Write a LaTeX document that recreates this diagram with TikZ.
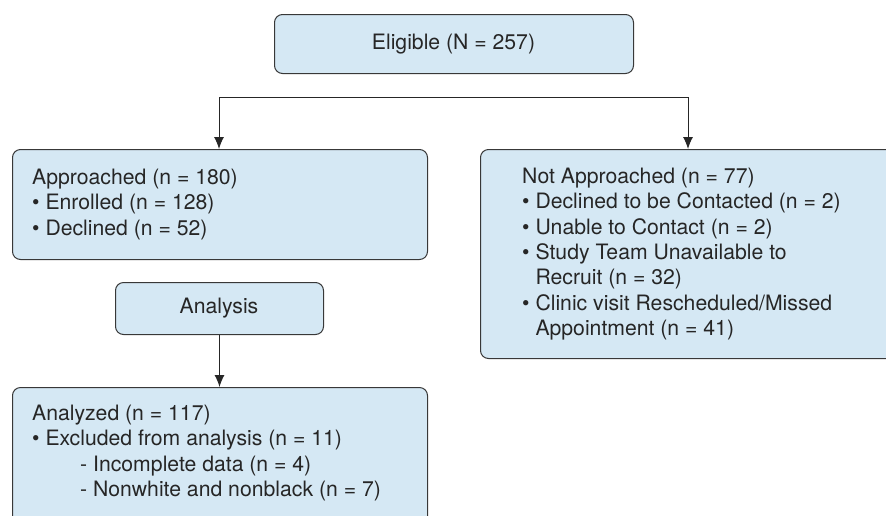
\documentclass[tikz,border=0pt]{standalone}
\usepackage{fontspec}
\setmainfont{TeX Gyre Heros}
\usetikzlibrary{arrows.meta}
\definecolor{boxfill}{HTML}{D5E8F4}
\definecolor{boxline}{HTML}{383838}
\tikzset{
  flowbox/.style={draw=boxline, fill=boxfill, line width=1pt, rounded corners=8pt, inner sep=0pt, anchor=north west},
  boxtext/.style={anchor=north west, inner sep=0pt, align=left, font=\fontsize{21.2}{25.3}\selectfont, text=black!85},
  ctext/.style={inner sep=0pt, font=\fontsize{21.2}{25}\selectfont, text=black!85},
  conn/.style={draw=black!85, line width=1pt, -{Latex[length=12pt,width=10pt]}},
}
\begin{document}
\begin{tikzpicture}[x=1pt,y=-1pt]
\useasboundingbox (0,0) rectangle (886,515);
% boxes
\node[flowbox, minimum width=359pt, minimum height=59pt] (elig) at (274,14) {};
\node[ctext] (eligt) at (453.5,44) {Eligible (N = 257)};
\node[flowbox, minimum width=415pt, minimum height=110pt] (appr) at (12,149) {};
\node[boxtext] (apprt) at (32,169) {Approached (n = 180)\\
\textbullet\ Enrolled (n = 128)\\
\textbullet\ Declined (n = 52)};
\node[flowbox, minimum width=440pt, minimum height=209pt] (notap) at (480,149) {};
\node[boxtext] (notapt) at (522,168) {Not Approached (n = 77)\\
\textbullet\ Declined to be Contacted (n = 2)\\
\textbullet\ Unable to Contact (n = 2)\\
\textbullet\ Study Team Unavailable to\\
\phantom{\textbullet\ }Recruit (n = 32)\\
\textbullet\ Clinic visit Rescheduled/Missed\\
\phantom{\textbullet\ }Appointment (n = 41)};
\node[flowbox, minimum width=208pt, minimum height=52pt] (anal) at (115,282) {};
\node[ctext] (analt) at (219,308) {Analysis};
\node[flowbox, minimum width=415pt, minimum height=160pt] (analyzed) at (12,387) {};
\node[boxtext] (analyzedt) at (32,405) {Analyzed (n = 117)\\
\textbullet\ Excluded from analysis (n = 11)\\
\hspace*{48pt}- Incomplete data (n = 4)\\
\hspace*{48pt}- Nonwhite and nonblack (n = 7)};
% connectors
\coordinate (hl) at (219,97);
\coordinate (hr) at (688,97);
\draw[conn] (hl) -- (hr |- hl) -- (hr |- notap.north);
\draw[conn] (hl) -- (hl |- appr.north);
\draw[conn] (anal.south) -- (anal.south |- analyzed.north);
\end{tikzpicture}
\end{document}
